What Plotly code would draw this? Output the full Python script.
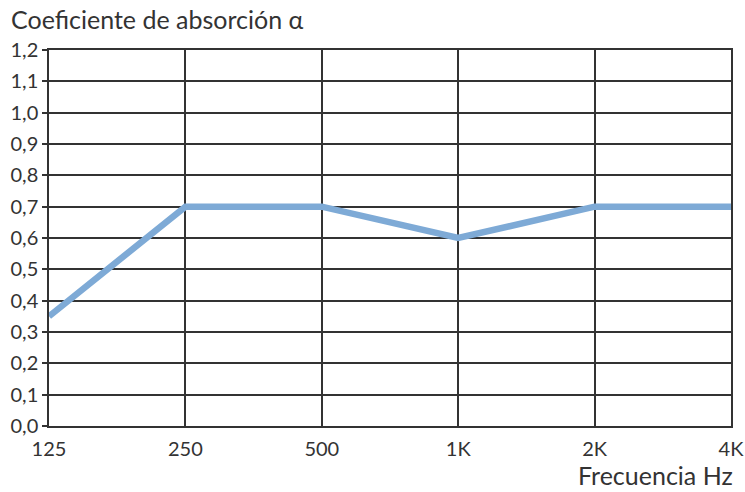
import plotly.graph_objects as go

freqs = ["125", "250", "500", "1K", "2K", "4K"]
alpha = [0.35, 0.70, 0.70, 0.60, 0.70, 0.70]
y_ticks = [0.0, 0.1, 0.2, 0.3, 0.4, 0.5, 0.6, 0.7, 0.8, 0.9, 1.0, 1.1, 1.2]
y_labels = ["0,0", "0,1", "0,2", "0,3", "0,4", "0,5", "0,6", "0,7", "0,8", "0,9", "1,0", "1,1", "1,2"]

FONT = "Lato"
TXT = "#333333"
fig = go.Figure()
fig.add_trace(go.Scatter(
    x=list(range(len(freqs))), y=alpha, mode="lines",
    line=dict(color="#7eaad6", width=6.5),
    cliponaxis=False, hoverinfo="skip", showlegend=False,
))
fig.update_layout(
    width=745, height=492,
    margin=dict(l=49, r=14, t=50, b=66),
    paper_bgcolor="white", plot_bgcolor="white",
    font=dict(family=FONT, size=20, color=TXT),
    xaxis=dict(
        range=[0, 5], tickvals=list(range(len(freqs))), ticktext=freqs,
        showgrid=True, gridcolor=TXT, gridwidth=1.5,
        showline=True, linecolor=TXT, linewidth=1.5, mirror=True,
        ticks="", zeroline=False, automargin=False, ticklabelstandoff=4,
        tickfont=dict(family=FONT, size=20, color=TXT),
    ),
    yaxis=dict(
        range=[0, 1.2], tickvals=y_ticks, ticktext=y_labels,
        showgrid=True, gridcolor=TXT, gridwidth=1.5,
        showline=True, linecolor=TXT, linewidth=1.5, mirror=True,
        ticks="outside", ticklen=5, tickcolor=TXT, tickwidth=1.5,
        zeroline=False, automargin=False,
        tickfont=dict(family=FONT, size=20, color=TXT),
    ),
    annotations=[
        dict(text="Coeficiente de absorción α", xref="paper", yref="paper",
             x=-49/682, y=1.0, xanchor="left", yanchor="bottom", yshift=14, xshift=9,
             showarrow=False, font=dict(family=FONT, size=25, color=TXT)),
        dict(text="Frecuencia Hz", xref="paper", yref="paper",
             x=1.0, y=0, xanchor="right", yanchor="bottom", yshift=-66, xshift=4,
             showarrow=False, font=dict(family=FONT, size=25, color=TXT)),
    ],
)
fig.write_html("out.html", config={"displayModeBar": False},
               post_script="document.body.style.margin='0';")
